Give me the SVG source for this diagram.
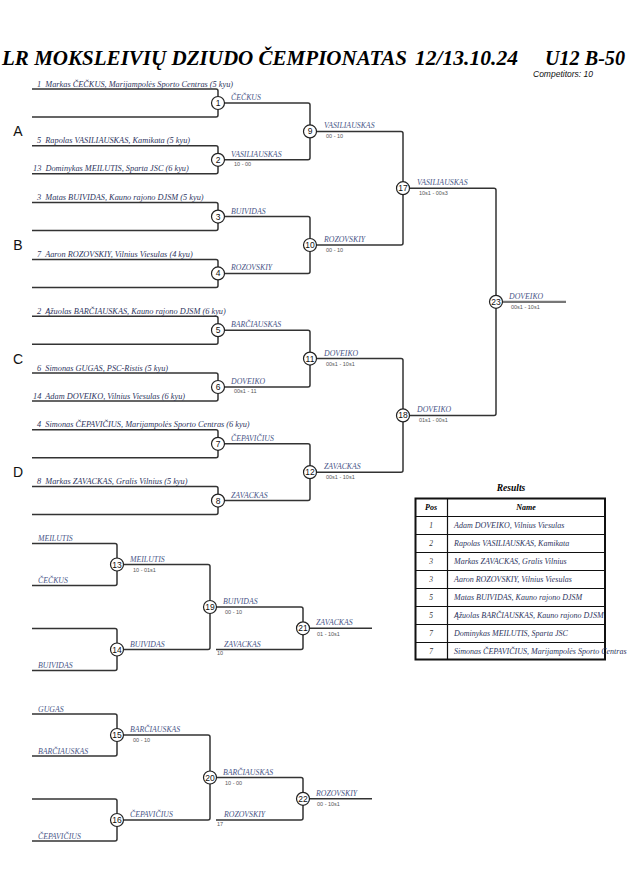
<svg xmlns="http://www.w3.org/2000/svg" width="630" height="891" viewBox="0 0 630 891">
<style>
.ln{fill:none;stroke:#333;stroke-width:1.5}
.fin{fill:none;stroke:#777;stroke-width:2.2}
.node circle{fill:#fff;stroke:#222;stroke-width:1.2}
.num{font-family:"Liberation Sans",Arial,sans-serif;font-size:8.5px;text-anchor:middle;fill:#111}
.ent{font-family:"Liberation Serif","Times New Roman",serif;font-style:italic;font-size:8.3px;fill:#2e3560;white-space:pre}
.win{font-family:"Liberation Serif","Times New Roman",serif;font-style:italic;font-size:7.8px;fill:#4a5688}
.sc{font-family:"Liberation Sans",Arial,sans-serif;font-size:5.5px;fill:#555}
.pool{font-family:"Liberation Sans",Arial,sans-serif;font-size:14px;fill:#111;text-anchor:middle}
.title{font-family:"Liberation Serif","Times New Roman",serif;font-style:italic;font-weight:bold;font-size:20px;fill:#000}
.tb{fill:none;stroke:#111;stroke-width:1.2}
.hd{font-family:"Liberation Serif","Times New Roman",serif;font-style:italic;font-weight:bold;font-size:8px;fill:#000;text-anchor:middle}
.pos{font-family:"Liberation Serif","Times New Roman",serif;font-style:italic;font-size:7.5px;fill:#333;text-anchor:middle}
.rn{font-family:"Liberation Serif","Times New Roman",serif;font-style:italic;font-size:8px;fill:#2e3560}
</style>

<g id="header">
<text class="title" x="2" y="65" textLength="405" lengthAdjust="spacingAndGlyphs">LR MOKSLEIVIŲ DZIUDO ČEMPIONATAS</text>
<text class="title" x="415" y="65" textLength="103" lengthAdjust="spacingAndGlyphs">12/13.10.24</text>
<text class="title" x="545" y="65" textLength="80" lengthAdjust="spacingAndGlyphs">U12 B-50</text>
<text x="533" y="77" font-family="Liberation Sans, Arial, sans-serif" font-style="italic" font-size="8.5" fill="#111">Competitors: 10</text>
</g>

<g id="pools">
<text class="pool" x="18" y="136">A</text>
<text class="pool" x="18" y="250">B</text>
<text class="pool" x="18" y="364">C</text>
<text class="pool" x="18" y="477">D</text>
</g>

<g id="connectors">
<path class="ln" d="M32 89H216Q218 89 218 91V115Q218 117 216 117H32"/>
<path class="ln" d="M32 145.8H216Q218 145.8 218 147.8V171.8Q218 173.8 216 173.8H32"/>
<path class="ln" d="M32 202.6H216Q218 202.6 218 204.6V228.6Q218 230.6 216 230.6H32"/>
<path class="ln" d="M32 259.4H216Q218 259.4 218 261.4V285.4Q218 287.4 216 287.4H32"/>
<path class="ln" d="M32 316.2H216Q218 316.2 218 318.2V342.2Q218 344.2 216 344.2H32"/>
<path class="ln" d="M32 373H216Q218 373 218 375V399Q218 401 216 401H32"/>
<path class="ln" d="M32 429.8H216Q218 429.8 218 431.8V455.8Q218 457.8 216 457.8H32"/>
<path class="ln" d="M32 486.6H216Q218 486.6 218 488.6V512.6Q218 514.6 216 514.6H32"/>
<path class="ln" d="M218 103H308Q310 103 310 105V157.8Q310 159.8 308 159.8H218"/>
<path class="ln" d="M218 216.6H308Q310 216.6 310 218.6V271.4Q310 273.4 308 273.4H218"/>
<path class="ln" d="M218 330.2H308Q310 330.2 310 332.2V385Q310 387 308 387H218"/>
<path class="ln" d="M218 443.8H308Q310 443.8 310 445.8V498.6Q310 500.6 308 500.6H218"/>
<path class="ln" d="M310 131.4H401Q403 131.4 403 133.4V243Q403 245 401 245H310"/>
<path class="ln" d="M310 358.6H401Q403 358.6 403 360.6V470.2Q403 472.2 401 472.2H310"/>
<path class="ln" d="M403 188.2H494Q496 188.2 496 190.2V413.4Q496 415.4 494 415.4H403"/>
<path class="fin" d="M496 301.8H566"/>
<path class="ln" d="M32 543.5H115Q117 543.5 117 545.5V583.5Q117 585.5 115 585.5H32"/>
<path class="ln" d="M32 628.5H115Q117 628.5 117 630.5V668.5Q117 670.5 115 670.5H32"/>
<path class="ln" d="M117 564.5H208Q210 564.5 210 566.5V647.5Q210 649.5 208 649.5H117"/>
<path class="ln" d="M210 607H301Q303 607 303 609V647.5Q303 649.5 301 649.5H216"/>
<path class="ln" d="M303 628.3H372"/>
<path class="ln" d="M32 714H115Q117 714 117 716V754Q117 756 115 756H32"/>
<path class="ln" d="M32 799H115Q117 799 117 801V839Q117 841 115 841H32"/>
<path class="ln" d="M117 735H208Q210 735 210 737V818Q210 820 208 820H117"/>
<path class="ln" d="M210 777.5H301Q303 777.5 303 779.5V818Q303 820 301 820H216"/>
<path class="ln" d="M303 798.8H372"/>
</g>

<g id="m1" class="node"><circle cx="218" cy="103" r="6.5"/><text class="num" x="218" y="106">1</text>
<text class="ent" x="37" y="86.5">1  Markas ČEČKUS, Marijampolės Sporto Centras (5 kyu)</text>
<text class="win" x="231" y="100">ČEČKUS</text></g>
<g id="m2" class="node"><circle cx="218" cy="159.8" r="6.5"/><text class="num" x="218" y="162.8">2</text>
<text class="ent" x="37" y="143.3">5  Rapolas VASILIAUSKAS, Kamikata (5 kyu)</text>
<text class="ent" x="33" y="171.3">13  Dominykas MEILUTIS, Sparta JSC (6 kyu)</text>
<text class="win" x="231" y="156.8">VASILIAUSKAS</text><text class="sc" x="234" y="166">10 - 00</text></g>
<g id="m3" class="node"><circle cx="218" cy="216.6" r="6.5"/><text class="num" x="218" y="219.6">3</text>
<text class="ent" x="37" y="200.1">3  Matas BUIVIDAS, Kauno rajono DJSM (5 kyu)</text>
<text class="win" x="231" y="213.6">BUIVIDAS</text></g>
<g id="m4" class="node"><circle cx="218" cy="273.4" r="6.5"/><text class="num" x="218" y="276.4">4</text>
<text class="ent" x="37" y="256.9">7  Aaron ROZOVSKIY, Vilnius Viesulas (4 kyu)</text>
<text class="win" x="231" y="270.4">ROZOVSKIY</text></g>
<g id="m5" class="node"><circle cx="218" cy="330.2" r="6.5"/><text class="num" x="218" y="333.2">5</text>
<text class="ent" x="37" y="313.7">2  Ąžuolas BARČIAUSKAS, Kauno rajono DJSM (6 kyu)</text>
<text class="win" x="231" y="327.2">BARČIAUSKAS</text></g>
<g id="m6" class="node"><circle cx="218" cy="387" r="6.5"/><text class="num" x="218" y="390">6</text>
<text class="ent" x="37" y="370.5">6  Simonas GUGAS, PSC-Ristis (5 kyu)</text>
<text class="ent" x="33" y="398.5">14  Adam DOVEIKO, Vilnius Viesulas (6 kyu)</text>
<text class="win" x="231" y="384">DOVEIKO</text><text class="sc" x="234" y="393.2">00s1 - 11</text></g>
<g id="m7" class="node"><circle cx="218" cy="443.8" r="6.5"/><text class="num" x="218" y="446.8">7</text>
<text class="ent" x="37" y="427.3">4  Simonas ČEPAVIČIUS, Marijampolės Sporto Centras (6 kyu)</text>
<text class="win" x="231" y="440.8">ČEPAVIČIUS</text></g>
<g id="m8" class="node"><circle cx="218" cy="500.6" r="6.5"/><text class="num" x="218" y="503.6">8</text>
<text class="ent" x="37" y="484.1">8  Markas ZAVACKAS, Gralis Vilnius (5 kyu)</text>
<text class="win" x="231" y="497.6">ZAVACKAS</text></g>

<g id="m9" class="node"><circle cx="310" cy="131.4" r="6.5"/><text class="num" x="310" y="134.4">9</text>
<text class="win" x="324" y="128.4">VASILIAUSKAS</text><text class="sc" x="326" y="138.4">00 - 10</text></g>
<g id="m10" class="node"><circle cx="310" cy="245" r="6.5"/><text class="num" x="310" y="248">10</text>
<text class="win" x="324" y="242">ROZOVSKIY</text><text class="sc" x="326" y="252">00 - 10</text></g>
<g id="m11" class="node"><circle cx="310" cy="358.6" r="6.5"/><text class="num" x="310" y="361.6">11</text>
<text class="win" x="324" y="355.6">DOVEIKO</text><text class="sc" x="326" y="365.6">00s1 - 10s1</text></g>
<g id="m12" class="node"><circle cx="310" cy="472.2" r="6.5"/><text class="num" x="310" y="475.2">12</text>
<text class="win" x="324" y="469.2">ZAVACKAS</text><text class="sc" x="326" y="479.2">00s1 - 10s1</text></g>
<g id="m17" class="node"><circle cx="403" cy="188.2" r="6.5"/><text class="num" x="403" y="191.2">17</text>
<text class="win" x="417" y="185.2">VASILIAUSKAS</text><text class="sc" x="419" y="195.2">10s1 - 00s3</text></g>
<g id="m18" class="node"><circle cx="403" cy="415.4" r="6.5"/><text class="num" x="403" y="418.4">18</text>
<text class="win" x="417" y="412.4">DOVEIKO</text><text class="sc" x="419" y="422.4">01s1 - 00s1</text></g>
<g id="m23" class="node"><circle cx="496" cy="301.8" r="6.5"/><text class="num" x="496" y="304.8">23</text>
<text class="win" x="509" y="298.8">DOVEIKO</text><text class="sc" x="511" y="308.8">00s1 - 10s1</text></g>

<g id="m13" class="node"><circle cx="117" cy="564.5" r="6.5"/><text class="num" x="117" y="567.5">13</text>
<text class="win" x="38" y="541">MEILUTIS</text><text class="win" x="38" y="583">ČEČKUS</text>
<text class="win" x="130" y="561.5">MEILUTIS</text><text class="sc" x="133" y="571.5">10 - 01s1</text></g>
<g id="m14" class="node"><circle cx="117" cy="649.5" r="6.5"/><text class="num" x="117" y="652.5">14</text>
<text class="win" x="38" y="668">BUIVIDAS</text>
<text class="win" x="130" y="646.5">BUIVIDAS</text></g>
<g id="m19" class="node"><circle cx="210" cy="607" r="6.5"/><text class="num" x="210" y="610">19</text>
<text class="win" x="223" y="604">BUIVIDAS</text><text class="sc" x="225" y="614">00 - 10</text>
<text class="win" x="224" y="646.5">ZAVACKAS</text><text class="sc" x="217" y="655">10</text></g>
<g id="m21" class="node"><circle cx="303" cy="628.3" r="6.5"/><text class="num" x="303" y="631.3">21</text>
<text class="win" x="316" y="625.3">ZAVACKAS</text><text class="sc" x="317" y="635.5">01 - 10s1</text></g>

<g id="m15" class="node"><circle cx="117" cy="735" r="6.5"/><text class="num" x="117" y="738">15</text>
<text class="win" x="38" y="711.5">GUGAS</text><text class="win" x="38" y="753.5">BARČIAUSKAS</text>
<text class="win" x="130" y="732">BARČIAUSKAS</text><text class="sc" x="133" y="742">00 - 10</text></g>
<g id="m16" class="node"><circle cx="117" cy="820" r="6.5"/><text class="num" x="117" y="823">16</text>
<text class="win" x="38" y="838.5">ČEPAVIČIUS</text>
<text class="win" x="130" y="817">ČEPAVIČIUS</text></g>
<g id="m20" class="node"><circle cx="210" cy="777.5" r="6.5"/><text class="num" x="210" y="780.5">20</text>
<text class="win" x="223" y="774.5">BARČIAUSKAS</text><text class="sc" x="225" y="784.5">10 - 00</text>
<text class="win" x="224" y="817">ROZOVSKIY</text><text class="sc" x="217" y="825.5">17</text></g>
<g id="m22" class="node"><circle cx="303" cy="798.8" r="6.5"/><text class="num" x="303" y="801.8">22</text>
<text class="win" x="316" y="795.8">ROZOVSKIY</text><text class="sc" x="317" y="806">00 - 10s1</text></g>

<g id="results">
<text x="511" y="491" font-family="Liberation Serif, Times New Roman, serif" font-style="italic" font-weight="bold" font-size="9.5" fill="#000" text-anchor="middle">Results</text>
<rect x="415.5" y="498.5" width="189.5" height="161" fill="#fff" stroke="#111" stroke-width="2"/>
<path class="tb" d="M447.5 498.5V659.5M415.5 516.5H605M415.5 534.5H605M415.5 552.5H605M415.5 570.5H605M415.5 588.5H605M415.5 606.5H605M415.5 624.5H605M415.5 642.5H605"/>
<text class="hd" x="431" y="510">Pos</text><text class="hd" x="526" y="510">Name</text>
<text class="pos" x="431" y="528">1</text><text class="rn" x="454" y="528">Adam DOVEIKO, Vilnius Viesulas</text>
<text class="pos" x="431" y="546">2</text><text class="rn" x="454" y="546">Rapolas VASILIAUSKAS, Kamikata</text>
<text class="pos" x="431" y="564">3</text><text class="rn" x="454" y="564">Markas ZAVACKAS, Gralis Vilnius</text>
<text class="pos" x="431" y="582">3</text><text class="rn" x="454" y="582">Aaron ROZOVSKIY, Vilnius Viesulas</text>
<text class="pos" x="431" y="600">5</text><text class="rn" x="454" y="600">Matas BUIVIDAS, Kauno rajono DJSM</text>
<text class="pos" x="431" y="618">5</text><text class="rn" x="454" y="618">Ąžuolas BARČIAUSKAS, Kauno rajono DJSM</text>
<text class="pos" x="431" y="636">7</text><text class="rn" x="454" y="636">Dominykas MEILUTIS, Sparta JSC</text>
<text class="pos" x="431" y="654">7</text><text class="rn" x="454" y="654">Simonas ČEPAVIČIUS, Marijampolės Sporto Centras</text>
</g>
</svg>
